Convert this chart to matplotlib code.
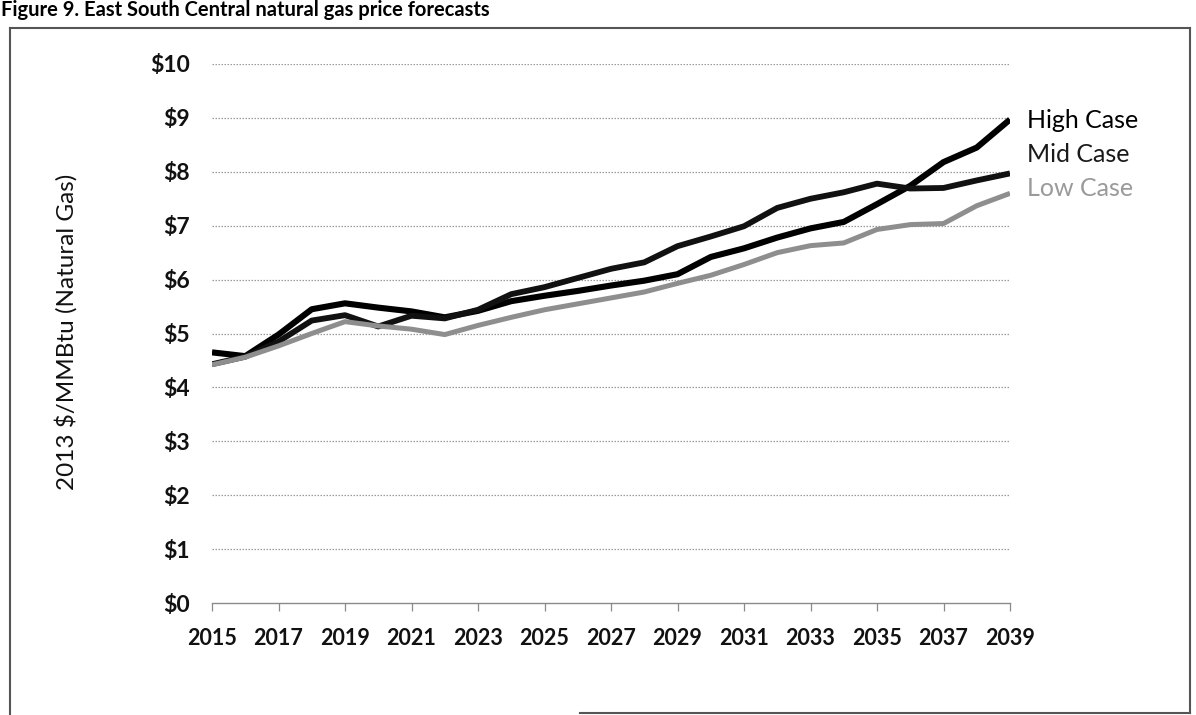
import matplotlib
matplotlib.use("Agg")
import matplotlib.pyplot as plt
from matplotlib.lines import Line2D

years = list(range(2015, 2040))
high_case = [4.65, 4.58, 4.98, 5.45, 5.56, 5.48, 5.41, 5.30, 5.42, 5.60, 5.70, 5.79, 5.89,
             5.98, 6.10, 6.42, 6.58, 6.78, 6.95, 7.07, 7.40, 7.74, 8.18, 8.45, 8.97]
mid_case = [4.43, 4.57, 4.85, 5.24, 5.34, 5.13, 5.33, 5.28, 5.44, 5.73, 5.86, 6.03, 6.20,
            6.32, 6.62, 6.80, 6.99, 7.33, 7.50, 7.62, 7.78, 7.69, 7.70, 7.84, 7.97]
low_case = [4.42, 4.56, 4.77, 5.00, 5.22, 5.14, 5.08, 4.98, 5.15, 5.30, 5.44, 5.55, 5.66,
            5.77, 5.93, 6.08, 6.28, 6.50, 6.63, 6.68, 6.93, 7.02, 7.04, 7.37, 7.60]
series_names = ["High Case", "Mid Case", "Low Case"]
x_ticks = list(range(2015, 2040, 2))
y_ticks = list(range(0, 11))
y_tick_labels = ["$0", "$1", "$2", "$3", "$4", "$5", "$6", "$7", "$8", "$9", "$10"]
title = "Figure 9. East South Central natural gas price forecasts"
y_label = "2013 $/MMBtu (Natural Gas)"

W, H = 1196, 715
fig = plt.figure(figsize=(W / 100, H / 100), dpi=100)

def fx(px):
    return px / W

def fy(py):
    return 1 - py / H

ax = fig.add_axes([fx(212), fy(603), fx(1010) - fx(212), fy(64) - fy(603)])

colors = ["#000000", "#111111", "#8e8e8e"]
widths = [4.4, 4.2, 3.6]
for vals, c, lw in zip([high_case, mid_case, low_case], colors, widths):
    ax.plot(years, vals, color=c, lw=lw, solid_capstyle="butt", solid_joinstyle="round")

ax.set_xlim(2015, 2039)
ax.set_ylim(0, 10)
ax.set_xticks(x_ticks)
ax.set_xticklabels([str(y) for y in x_ticks])
ax.set_yticks(y_ticks)
ax.set_yticklabels(y_tick_labels)

for v in y_ticks[1:]:
    ax.axhline(v, color="#9a9a9a", lw=0.9, ls=(0, (1.2, 1.2)), zorder=0)

for s in ["left", "right", "top"]:
    ax.spines[s].set_visible(False)
ax.spines["bottom"].set_color("#8a8a8a")
ax.spines["bottom"].set_linewidth(1.0)

ax.tick_params(axis="y", length=0, pad=16)
ax.tick_params(axis="x", length=6, width=0.9, color="#8a8a8a", pad=12, direction="out")
for lab in ax.get_xticklabels():
    lab.set_fontfamily("Lato")
    lab.set_fontweight("bold")
    lab.set_fontsize(15.5)
    lab.set_color("#111111")
for lab in ax.get_yticklabels():
    lab.set_fontfamily("Lato")
    lab.set_fontweight("bold")
    lab.set_fontsize(16.5)
    lab.set_color("#111111")

fig.text(fx(66), fy(332), y_label, rotation=90, ha="center", va="center",
         fontfamily="Lato", fontsize=17.5, color="#111111")

label_y = [121, 154, 188]
label_colors = ["#000000", "#1a1a1a", "#9a9a9a"]
for name, py, c in zip(series_names, label_y, label_colors):
    fig.text(fx(1027), fy(py), name, ha="left", va="center", fontfamily="Lato",
             fontsize=18, color=c)

fig.text(fx(1), fy(16), title, ha="left", va="baseline", fontfamily="Lato",
         fontweight="bold", fontsize=14.5, color="#000000")

# frame box
frame_kw = dict(color="#555555", lw=1.5, transform=fig.transFigure)
fig.add_artist(Line2D([fx(10), fx(1190)], [fy(28), fy(28)], **frame_kw))
fig.add_artist(Line2D([fx(10), fx(10)], [fy(28), fy(715)], **frame_kw))
fig.add_artist(Line2D([fx(1190), fx(1190)], [fy(28), fy(713)], **frame_kw))
fig.add_artist(Line2D([fx(580), fx(1190)], [fy(713), fy(713)], **frame_kw))

fig.savefig("out.png", dpi=100)
